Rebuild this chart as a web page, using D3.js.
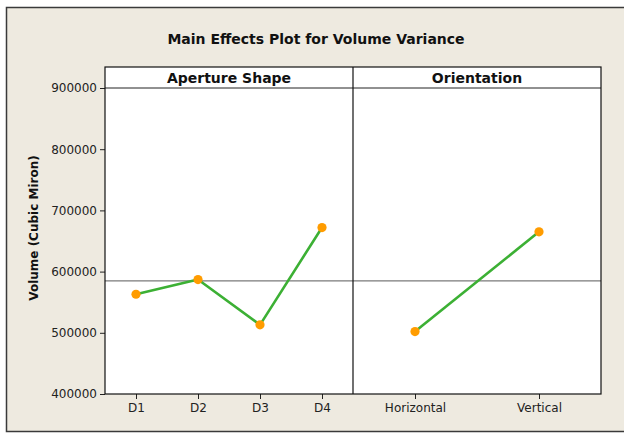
<!DOCTYPE html>
<html>
<head>
<meta charset="utf-8">
<script src="https://cdn.jsdelivr.net/npm/d3@7"></script>
<style>
  body { margin: 0; background: #fff; }
  svg { display: block; font-family: "DejaVu Sans", sans-serif; }
</style>
</head>
<body>
<div id="chart"></div>
<script>
// values
var shapeLevels = ["D1", "D2", "D3", "D4"];
var shapeMeans = [563000, 587000, 513000, 672000];
var orientLevels = ["Horizontal", "Vertical"];
var orientMeans = [502000, 665000];
var grandMean = 585000;
var yTicks = [400000, 500000, 600000, 700000, 800000, 900000];

var width = 624, height = 434;
var svg = d3.select("#chart").append("svg").attr("width", width).attr("height", height);

// frame
svg.append("rect").attr("x", 6.5).attr("y", 7.5).attr("width", 640).attr("height", 424)
  .attr("fill", "#eeeae0").attr("stroke", "#3a3a3a").attr("stroke-width", 1.5);

svg.append("text").attr("x", 316).attr("y", 44).attr("text-anchor", "middle")
  .attr("font-size", 14).attr("font-weight", "bold").attr("fill", "#111")
  .text("Main Effects Plot for Volume Variance");

// note: "top" is taken by window.top, so plotTop
var plotTop = 67, headerBottom = 88, plotBottom = 394;
var left1 = 105, mid = 353, right2 = 601;

var y = d3.scaleLinear().domain([400000, 900000]).range([plotBottom, headerBottom]);

var panels = [
  {name: "Aperture Shape", levels: shapeLevels, means: shapeMeans, x0: left1, x1: mid},
  {name: "Orientation", levels: orientLevels, means: orientMeans, x0: mid, x1: right2}
];

// white plot area
svg.append("rect").attr("x", left1).attr("y", plotTop).attr("width", right2 - left1).attr("height", plotBottom - plotTop)
  .attr("fill", "#fff");

// y axis
var yAxis = d3.axisLeft(y).tickValues(yTicks).tickSize(5).tickPadding(3).tickFormat(d3.format("d"));
var ya = svg.append("g").attr("transform", "translate(" + left1 + ",0)").call(yAxis);
ya.select(".domain").remove();
ya.selectAll("text").attr("font-size", 12).attr("fill", "#222").attr("font-family", "DejaVu Sans");
ya.selectAll("line").attr("stroke", "#222");

svg.append("text").attr("transform", "translate(38," + 228 + ") rotate(-90)")
  .attr("text-anchor", "middle").attr("font-size", 12).attr("font-weight", "bold").attr("fill", "#111")
  .text("Volume (Cubic Miron)");

// reference line at the grand mean
svg.append("line").attr("x1", left1).attr("x2", right2).attr("y1", y(grandMean)).attr("y2", y(grandMean))
  .attr("stroke", "#7a7a7a").attr("stroke-width", 1.2);

panels.forEach(function(p) {
  var x = d3.scalePoint().domain(p.levels).range([p.x0, p.x1]).padding(0.5);
  var pts = p.levels.map(function(l, i) { return [x(l), y(p.means[i])]; });

  svg.append("path").attr("d", d3.line()(pts)).attr("fill", "none")
    .attr("stroke", "#3cb034").attr("stroke-width", 2.6).attr("stroke-linejoin", "round");
  svg.selectAll(null).data(pts).enter().append("circle")
    .attr("cx", function(d) { return d[0]; }).attr("cy", function(d) { return d[1]; })
    .attr("r", 4.6).attr("fill", "#ff9c00");

  var xAxis = d3.axisBottom(x).tickSize(5).tickPadding(4);
  var xa = svg.append("g").attr("transform", "translate(0," + plotBottom + ")").call(xAxis);
  xa.select(".domain").remove();
  xa.selectAll("text").attr("font-size", 12).attr("fill", "#222").attr("font-family", "DejaVu Sans");
  xa.selectAll("line").attr("stroke", "#222");

  svg.append("text").attr("x", (p.x0 + p.x1) / 2).attr("y", 83).attr("text-anchor", "middle")
    .attr("font-size", 14).attr("font-weight", "bold").attr("fill", "#111").text(p.name);
});

// header line, divider, panel border
svg.append("line").attr("x1", left1).attr("x2", right2).attr("y1", headerBottom).attr("y2", headerBottom)
  .attr("stroke", "#222").attr("stroke-width", 1);
svg.append("line").attr("x1", mid).attr("x2", mid).attr("y1", plotTop).attr("y2", plotBottom)
  .attr("stroke", "#111").attr("stroke-width", 1.2);
svg.append("rect").attr("x", left1).attr("y", plotTop).attr("width", right2 - left1).attr("height", plotBottom - plotTop)
  .attr("fill", "none").attr("stroke", "#111").attr("stroke-width", 1.2);
</script>
</body>
</html>
